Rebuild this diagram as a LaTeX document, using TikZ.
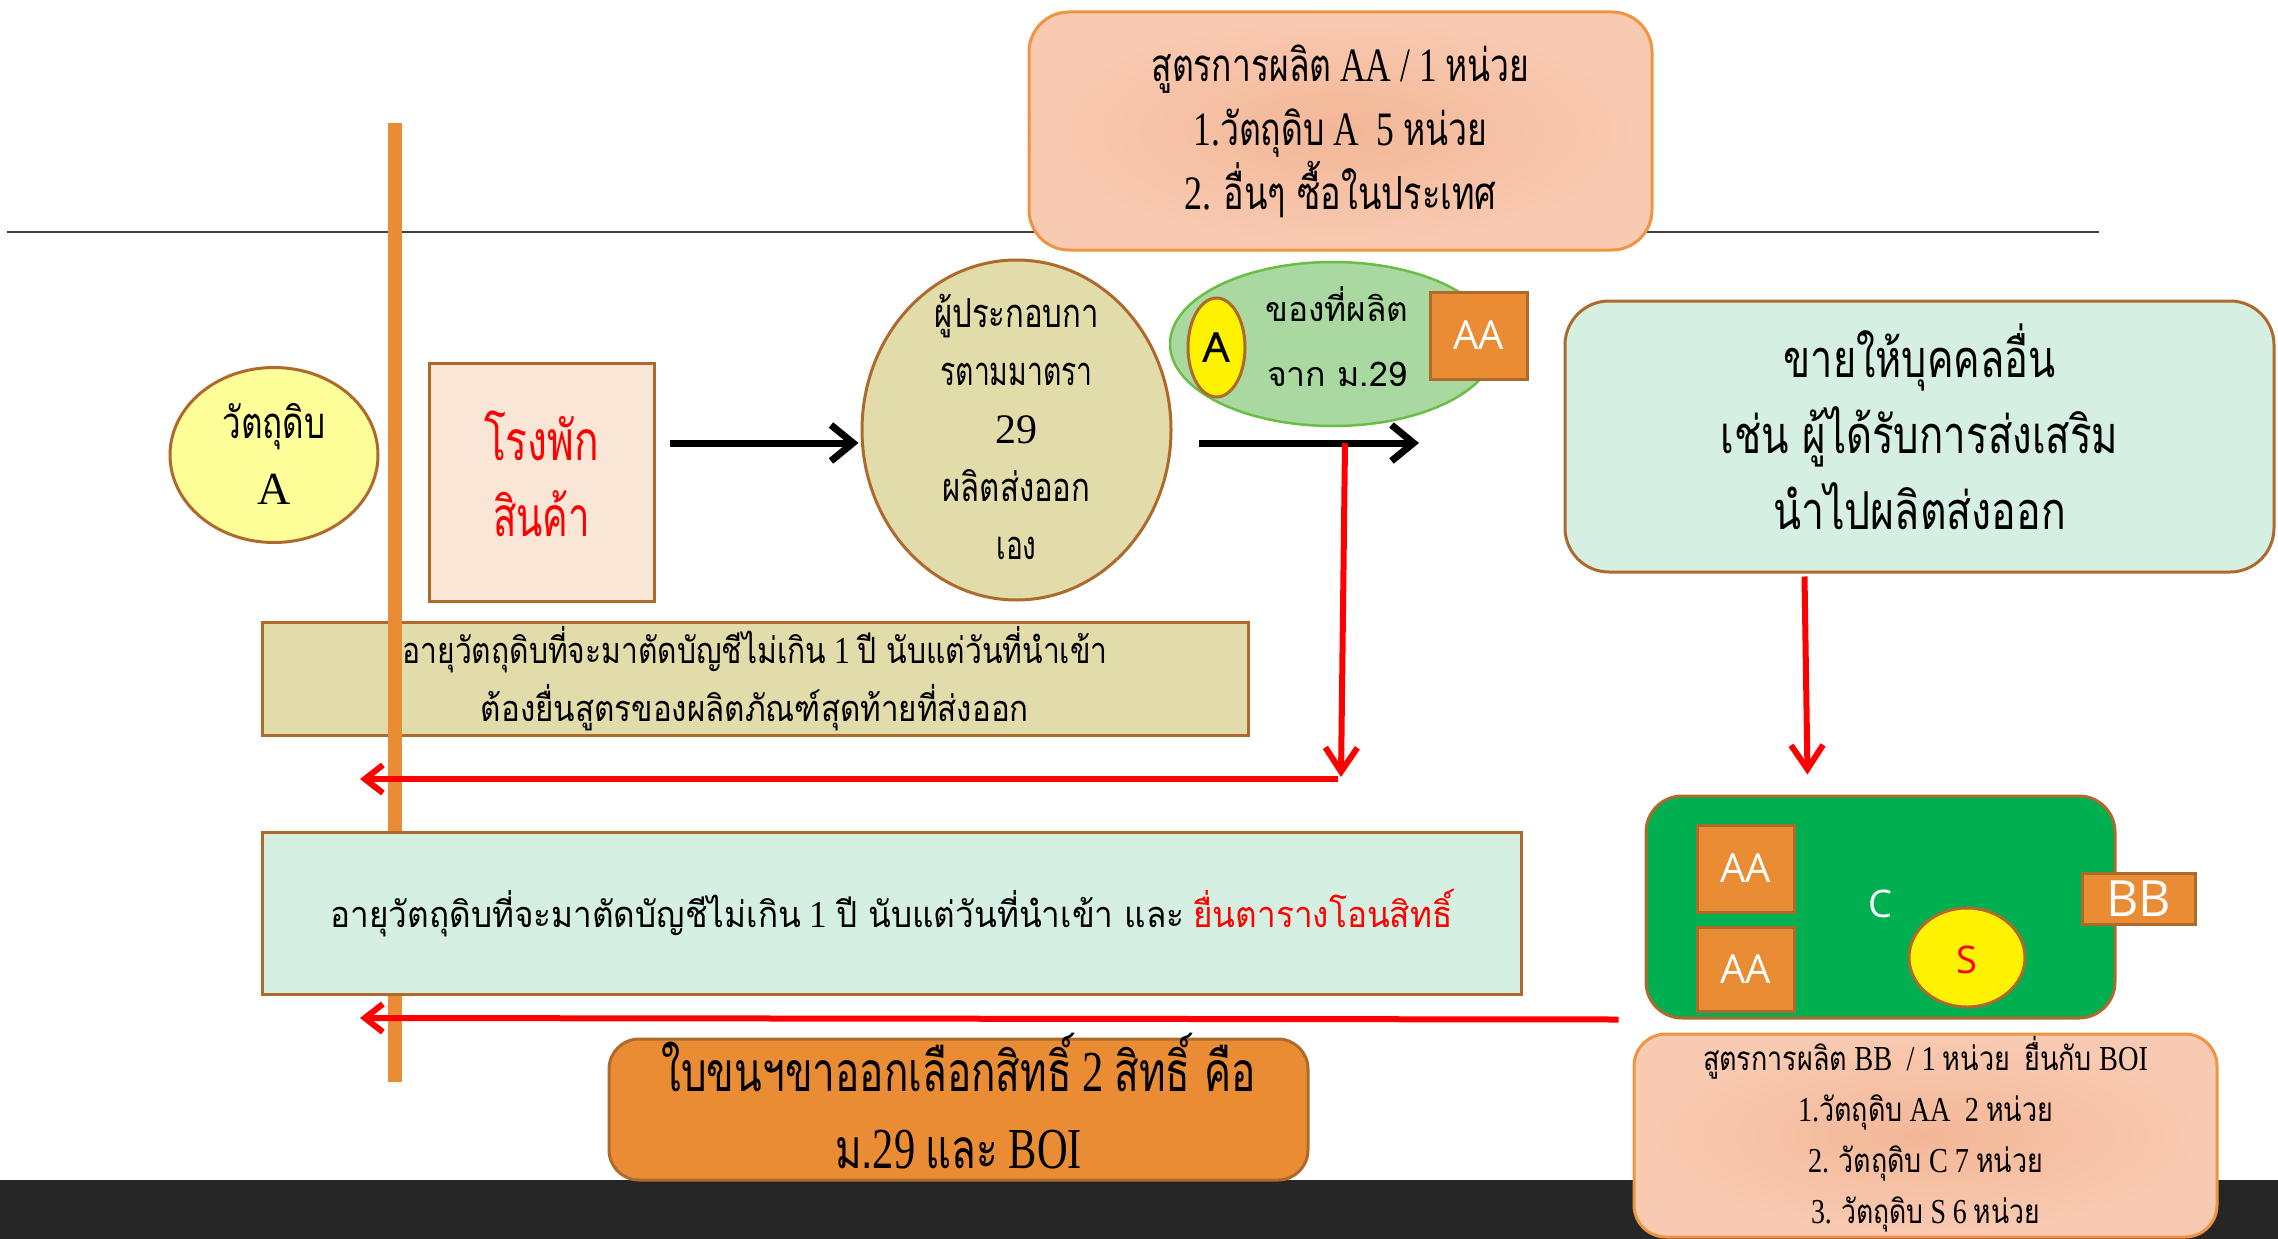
\documentclass[tikz,border=0pt]{standalone}
\usepackage{fontspec}
\usepackage{graphicx}
\setmainfont{Liberation Serif}
\newfontfamily\thf[Script=Thai,Scale=0.95]{Loma}
\newfontfamily\thsans[Script=Thai]{Loma}
\newfontfamily\osans{Open Sans}
\usetikzlibrary{arrows.meta,calc,shapes.geometric}
\newcommand\T[1]{{\thf #1}}
\newcommand\fw[2]{\resizebox{#1pt}{\height}{#2}}
\definecolor{orng}{HTML}{E98C34}
\definecolor{brwn}{HTML}{AD6A2C}
\definecolor{khaki}{HTML}{E2DCAB}
\definecolor{mint}{HTML}{D5F0E2}
\definecolor{peachin}{HTML}{F3B797}
\definecolor{peachout}{HTML}{F9CAB2}
\definecolor{peachedge}{HTML}{EE9442}
\definecolor{whfill}{HTML}{FAE6D7}
\definecolor{lyellow}{HTML}{FFFF99}
\definecolor{lgreen}{HTML}{A9D9A0}
\definecolor{gedge}{HTML}{6ABD45}
\definecolor{dgreen}{HTML}{00AF50}
\definecolor{band}{HTML}{262626}
\definecolor{rred}{HTML}{FF0000}
\definecolor{lgray}{HTML}{404040}
\begin{document}
\begin{tikzpicture}[x=1pt,y=-1pt,
  bbox/.style={draw=brwn, line width=3pt, align=center, inner sep=0pt},
  peachbox/.style={draw=peachedge, line width=3pt, rounded corners=40pt, inner color=peachin, outer color=peachout, align=center, inner sep=0pt},
  ovalbox/.style={ellipse, draw=brwn, line width=3pt, inner sep=0pt},
  txt/.style={align=center, inner sep=0pt},
  orbox/.style={bbox, fill=orng, text=white, font=\osans\fontsize{40}{48}\selectfont},
  blkarrow/.style={line width=7pt, -{Straight Barb[length=22pt,width=36pt]}},
  redarrow/.style={rred, line width=6pt, -{Straight Barb[length=18pt,width=28pt]}},
  reddown/.style={rred, line width=6pt, -{Straight Barb[length=24pt,width=32pt]}}]
\useasboundingbox (0,0) rectangle (2278,1239);
% background elements
\fill[band] (0,1180) rectangle (2278,1239);
\draw[lgray, line width=2.5pt] (7,232) -- (2099,232);

% top recipe box
\node[peachbox, minimum width=623pt, minimum height=238pt] (top) at (1340.5,131) {};
\node[txt, font=\fontsize{48}{64}\selectfont] (topt) at (1340.5,131)
  {\fw{378}{\T{สูตรการผลิต} AA / 1 \T{หน่วย}}\\
   \fw{294}{1.\T{วัตถุดิบ} A\enspace 5 \T{หน่วย}}\\
   \fw{312}{2. \T{อื่นๆ ซื้อในประเทศ}}};

% raw material A
\node[ovalbox, fill=lyellow, minimum width=208pt, minimum height=175pt] (rawA) at (274,455) {};
\node[txt, font=\fontsize{46}{66}\selectfont] (rawAt) at (274,454) {\fw{103}{\T{วัตถุดิบ}}\\A};

% warehouse
\node[bbox, fill=whfill, minimum width=225pt, minimum height=238pt] (wh) at (541.5,482) {};
\node[txt, text=rred, font=\fontsize{58}{76}\selectfont] (wht) at (541.5,474)
  {\fw{115}{\T{โรงพัก}}\\ \fw{97}{\T{สินค้า}}};

% section 29 operator
\node[ovalbox, fill=khaki, minimum width=309pt, minimum height=340pt] (m29) at (1016.5,430) {};
\node[txt, font=\fontsize{42}{58}\selectfont] (m29t) at (1016.5,427)
  {\fw{165}{\T{ผู้ประกอบกา}}\\ \fw{152}{\T{รตามมาตรา}}\\ 29\\ \fw{148}{\T{ผลิตส่งออก}}\\ \fw{40}{\T{เอง}}};

% goods produced
\node[ellipse, draw=gedge, line width=2.5pt, fill=lgreen, minimum width=326pt, minimum height=164pt, inner sep=0pt] (goods) at (1333,344) {};
\node[txt, font=\thsans\fontsize{34}{65}\selectfont] (goodst) at (1337,337)
  {\fw{143}{ของที่ผลิต}\\ \fw{140}{จาก ม.29}};
\node[ovalbox, fill=yellow, minimum width=57pt, minimum height=99pt] (smallA) at (1216.5,347.5) {};
\node[txt, font=\thsans\fontsize{42}{48}\selectfont] (smallAt) at (smallA.center) {A};
\node[orbox, minimum width=97pt, minimum height=87pt] (aa1) at (1478.5,335.5) {AA};

% rule box 1
\node[bbox, fill=khaki, minimum width=986pt, minimum height=113pt, font=\fontsize{38}{58}\selectfont] (rule1) at (755,678.5)
  {\fw{705}{\T{อายุวัตถุดิบที่จะมาตัดบัญชีไม่เกิน} 1 \T{ปี นับแต่วันที่นำเข้า}}\\
   \fw{548}{\T{ต้องยื่นสูตรของผลิตภัณฑ์สุดท้ายที่ส่งออก}}};

% customs border bar
\draw[orng, line width=14pt] (395,123) -- (395,1082);

% rule box 2
\node[bbox, fill=mint, minimum width=1259pt, minimum height=162pt, font=\fontsize{38}{58}\selectfont] (rule2) at (891.5,913)
  {\fw{1122}{\T{อายุวัตถุดิบที่จะมาตัดบัญชีไม่เกิน} 1 \T{ปี นับแต่วันที่นำเข้า และ} \textcolor{rred}{\T{ยื่นตารางโอนสิทธิ์}}}};

% sell box
\node[bbox, fill=mint, rounded corners=44pt, minimum width=709pt, minimum height=271pt] (sell) at (1919.5,436.5) {};
\node[txt, font=\fontsize{55}{76}\selectfont] (sellt) at (1919.5,427)
  {\fw{272}{\T{ขายให้บุคคลอื่น}}\\ \fw{398}{\T{เช่น ผู้ได้รับการส่งเสริม}}\\ \fw{293}{\T{นำไปผลิตส่งออก}}};

% BOI product box
\node[bbox, fill=dgreen, rounded corners=36pt, minimum width=469pt, minimum height=222pt] (cbox) at (1880.5,907) {};
\node[orbox, minimum width=97pt, minimum height=87pt] (aa2) at (1745.5,868.5) {AA};
\node[orbox, minimum width=97pt, minimum height=84pt] (aa3) at (1745.5,969) {AA};
\node[txt, text=white, font=\osans\fontsize{38}{40}\selectfont] (clab) at (1880,904) {C};
\node[ovalbox, fill=yellow, minimum width=116pt, minimum height=99pt] (sball) at (1967,957.5) {};
\node[txt, text=rred, font=\osans\fontsize{38}{40}\selectfont] (sballt) at (1967,960) {S};
\node[orbox, minimum width=113pt, minimum height=51pt, font=\osans\fontsize{50}{50}\selectfont] (bb) at (2138.5,898.5) {BB};

% choice box
\node[bbox, fill=orng, rounded corners=30pt, minimum width=699pt, minimum height=141pt] (choice) at (958.5,1109.5) {};
\node[txt, font=\fontsize{58}{77}\selectfont] (choicet) at (958.5,1101)
  {\fw{594}{\T{ใบขนฯขาออกเลือกสิทธิ์} 2 \T{สิทธิ์ คือ}}\\ \fw{247}{\T{ม.}29 \T{และ} BOI}};

% bottom recipe box
\node[peachbox, rounded corners=32pt, minimum width=583pt, minimum height=203pt] (recipe) at (1925.5,1135.5) {};
\node[txt, font=\fontsize{35}{51}\selectfont] (recipet) at (1925.5,1134)
  {\fw{445}{\T{สูตรการผลิต} BB\enspace/ 1 \T{หน่วย}\enspace\T{ยื่นกับ} BOI}\\
   \fw{255}{1.\T{วัตถุดิบ} AA\enspace 2 \T{หน่วย}}\\
   \fw{235}{2. \T{วัตถุดิบ} C 7 \T{หน่วย}}\\
   \fw{229}{3. \T{วัตถุดิบ} S 6 \T{หน่วย}}};

% connectors
\coordinate (a2end) at (1419,443);
\coordinate (r1end) at (1341,777);
\coordinate (r1h) at (1338,779);
\coordinate (hl1) at (360,779);
\coordinate (hl2) at (360,1018);
\draw[blkarrow] ($(wh.east)+(14,-39)$) -- ($(m29.west)+(-2,13)$);
\draw[blkarrow] ($(m29.east)+(26,13)$) -- (a2end);
\draw[reddown] ($(goods.south)+(12,16)$) -- (r1end);
\draw[redarrow] (r1h) -- (hl1);
\draw[redarrow] ($(cbox.south west)+(-26,0)$) -- (hl2);
\draw[reddown] ($(sell.south)+(-115,3)$) -- ($(cbox.north)+(-73,-20)$);
\end{tikzpicture}
\end{document}
